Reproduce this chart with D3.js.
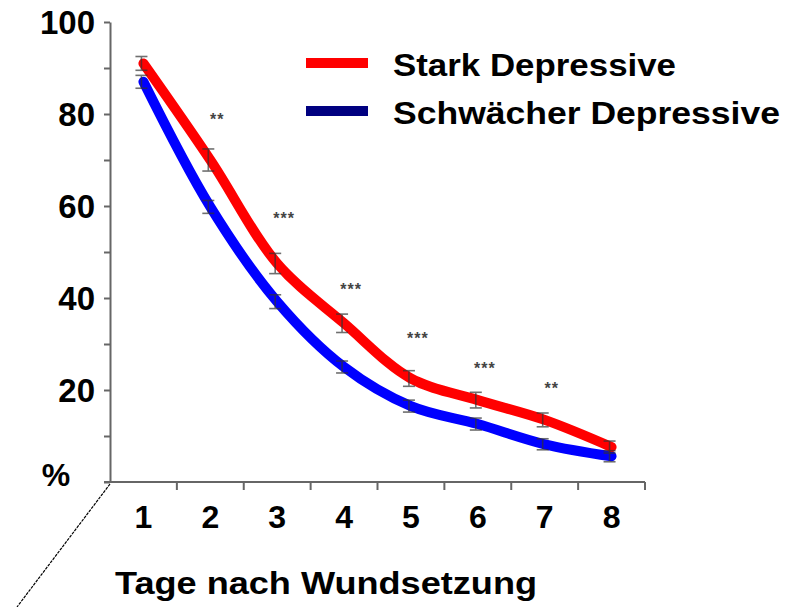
<!DOCTYPE html>
<html>
<head>
<meta charset="utf-8">
<script src="https://cdn.jsdelivr.net/npm/d3@7/dist/d3.min.js"></script>
<style>
  html, body { margin: 0; padding: 0; background: #fff; }
  svg { display: block; }
  text { font-family: "Liberation Sans", Arial, sans-serif; font-weight: bold; }
</style>
</head>
<body>
<svg id="chart" width="794" height="607"></svg>
<script>
// ---- data ----
const days = ["1", "2", "3", "4", "5", "6", "7", "8"];
const starkValues = [91, 70, 47.5, 34.5, 22.5, 17.8, 13.5, 7.6];
const starkErrors = [1.5, 2.4, 2.2, 2.0, 1.7, 1.7, 1.5, 1.3];
const schwachValues = [87, 59.8, 39.2, 25, 16.5, 12.6, 8.2, 5.6];
const schwachErrors = [1.4, 1.4, 1.5, 1.3, 1.3, 1.3, 1.2, 1.2];
const stars = ["", "**", "***", "***", "***", "***", "**", ""];
const starLevels = [null, 79, 57.5, 42, 31.2, 24.8, 20.4, null];
const yTicks = [0, 10, 20, 30, 40, 50, 60, 70, 80, 90, 100];
const yLabels = [20, 40, 60, 80, 100];
const seriesNames = ["Stark Depressive", "Schwächer Depressive"];

// ---- layout ----
const svg = d3.select("#chart");
const x = d3.scaleBand().domain(days).range([110, 645]).padding(0);
const y = d3.scaleLinear().domain([0, 100]).range([482, 22]);
const cx = d => x(d) + x.bandwidth() / 2;
const axisColor = "#666";

// diagonal dashed line
svg.append("line")
  .attr("x1", 110).attr("y1", 484).attr("x2", 17).attr("y2", 607)
  .attr("stroke", "#000").attr("stroke-width", 1.2).attr("stroke-dasharray", "3,1");

// y axis
const yAxis = svg.append("g").attr("transform", "translate(110,0)")
  .call(d3.axisLeft(y).tickValues(yTicks).tickSize(6).tickSizeOuter(0)
    .tickFormat(d => yLabels.includes(d) ? d : ""));
yAxis.select(".domain").attr("stroke", axisColor).attr("stroke-width", 2);
yAxis.selectAll(".tick line").attr("stroke", axisColor).attr("stroke-width", 2);
yAxis.selectAll(".tick text")
  .attr("x", -15).attr("dy", "0.36em")
  .attr("font-size", 33).attr("font-weight", "bold")
  .attr("font-family", "'Liberation Sans', Arial, sans-serif")
  .attr("fill", "#000");

// x axis (labels via axis, ticks at band boundaries)
const xAxis = svg.append("g").attr("transform", "translate(0,482)")
  .call(d3.axisBottom(x).tickSize(0).tickSizeOuter(0).tickPadding(22));
xAxis.select(".domain").remove();
xAxis.selectAll(".tick text")
  .attr("dy", "0.75em")
  .attr("font-size", 32).attr("font-weight", "bold")
  .attr("font-family", "'Liberation Sans', Arial, sans-serif")
  .attr("fill", "#000");
const bounds = days.map(d => x(d)).concat([x(days[days.length - 1]) + x.bandwidth()]);
svg.append("line")
  .attr("x1", 104).attr("x2", 645).attr("y1", 482).attr("y2", 482)
  .attr("stroke", axisColor).attr("stroke-width", 2);
svg.selectAll(".xtick").data(bounds.slice(1)).join("line")
  .attr("class", "xtick")
  .attr("x1", d => d).attr("x2", d => d)
  .attr("y1", 482).attr("y2", 490)
  .attr("stroke", axisColor).attr("stroke-width", 2);

// % label
svg.append("text").attr("x", 56).attr("y", 486).attr("text-anchor", "middle")
  .attr("font-size", 32).text("%");

// axis title
svg.append("text").attr("x", 115).attr("y", 594)
  .attr("font-size", 32).attr("textLength", 422).attr("lengthAdjust", "spacingAndGlyphs")
  .text("Tage nach Wundsetzung");

// lines
const line = d3.line().x((v, i) => cx(days[i])).y(v => y(v)).curve(d3.curveCatmullRom.alpha(0.5));
svg.append("path").datum(schwachValues).attr("d", line)
  .attr("fill", "none").attr("stroke", "#0000ff").attr("stroke-width", 10)
  .attr("stroke-linecap", "round").attr("stroke-linejoin", "round");
svg.append("path").datum(starkValues).attr("d", line)
  .attr("fill", "none").attr("stroke", "#ff0000").attr("stroke-width", 10)
  .attr("stroke-linecap", "round").attr("stroke-linejoin", "round");

// error bars (mostly caps, as in the original)
function errorBars(vals, errs, cls, dx) {
  const g = svg.append("g").attr("class", cls)
    .attr("stroke", "#333").attr("stroke-width", 1.6).attr("opacity", 0.7);
  vals.forEach((v, i) => {
    const xc = cx(days[i]) + dx;
    g.append("line").attr("x1", xc).attr("x2", xc).attr("y1", y(v + errs[i])).attr("y2", y(v - errs[i]));
    g.append("line").attr("x1", xc - 6).attr("x2", xc + 6).attr("y1", y(v + errs[i])).attr("y2", y(v + errs[i]));
    g.append("line").attr("x1", xc - 6).attr("x2", xc + 6).attr("y1", y(v - errs[i])).attr("y2", y(v - errs[i]));
  });
}
errorBars(starkValues, starkErrors, "err-stark", -2);
errorBars(schwachValues, schwachErrors, "err-schwach", -2);

// significance stars
svg.selectAll(".star").data(days.filter((d, i) => stars[i] !== "")).join("text")
  .attr("class", "star")
  .attr("x", d => cx(d) + 7)
  .attr("y", d => y(starLevels[days.indexOf(d)]) + 6)
  .attr("text-anchor", "middle")
  .attr("font-size", 16).attr("fill", "#444").attr("letter-spacing", 1)
  .text(d => stars[days.indexOf(d)]);

// legend
const legendColors = ["#ff0000", "#000080"];
const legendY = [63, 111];
seriesNames.forEach((name, i) => {
  svg.append("line")
    .attr("x1", 306).attr("x2", 368).attr("y1", legendY[i]).attr("y2", legendY[i])
    .attr("stroke", legendColors[i]).attr("stroke-width", 10);
  svg.append("text").attr("x", 393).attr("y", legendY[i] + 13)
    .attr("font-size", 32)
    .attr("textLength", i === 0 ? 283 : 387).attr("lengthAdjust", "spacingAndGlyphs")
    .text(name);
});
</script>
</body>
</html>
